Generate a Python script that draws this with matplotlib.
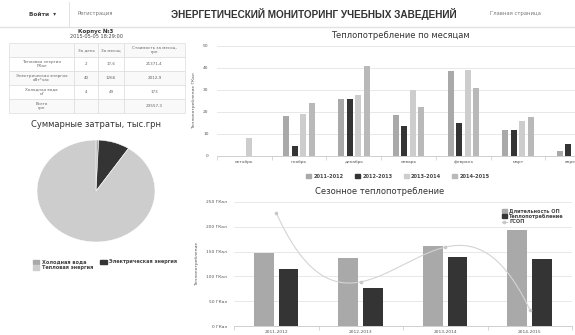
import numpy as np
import matplotlib.pyplot as plt
from matplotlib.patches import Patch
from matplotlib.lines import Line2D

W, H = 575, 335

# ---- данные ----
months = ['октябрь', 'ноябрь', 'декабрь', 'январь', 'февраль', 'март', 'апрель']
seasons = ['2011-2012', '2012-2013', '2013-2014', '2014-2015']
heat_2011 = [0, 18, 26, 18.8, 38.6, 11.8, 2.1]
heat_2012 = [0, 4.4, 25.8, 13.8, 15.2, 11.8, 5.6]
heat_2013 = [8.3, 19.2, 27.6, 30.2, 39.1, 15.8, 0]
heat_2014 = [0, 24, 40.9, 22.1, 31, 17.9, 0]

op_duration = [148, 138, 162, 193]
season_heat = [115, 77, 140, 136]
gsop = [228, 89, 159, 33]

pie_labels = ['Холодная вода', 'Электрическая энергия', 'Тепловая энергия']
pie_values = [173, 2012.9, 21371.4]

table_rows = [
    ['', 'За день', 'За месяц', 'Стоимость за месяц,\nгрн'],
    ['Тепловая энергия\nГКал', '2', '17,6', '21371,4'],
    ['Электрическая энергия\nкВт*час', '40', '1266', '2012,9'],
    ['Холодная вода\nм³', '4', '49', '173'],
    ['Всего\nгрн', '', '', '23557,3'],
]

c_2011 = '#a9a9a9'
c_dark = '#343434'
c_2013 = '#cdcdcd'
c_2014 = '#b9b9b9'
grid_c = '#e4e4e4'
txt_c = '#555555'


def px_axes(fig, x0, y0, x1, y1):
    return fig.add_axes([x0 / W, 1 - y1 / H, (x1 - x0) / W, (y1 - y0) / H])


def ftxt(fig, x, y, s, **kw):
    return fig.text(x / W, 1 - y / H, s, **kw)


fig = plt.figure(figsize=(W / 100, H / 100), dpi=100)
fig.patch.set_facecolor('white')

# ---- шапка ----
ftxt(fig, 29, 14, 'Войти  ▾', fontsize=4.2, fontweight='bold', color='#444444', va='center')
ftxt(fig, 78, 14, 'Регистрация', fontsize=3.8, color='#777777', va='center')
ftxt(fig, 314, 14, 'ЭНЕРГЕТИЧЕСКИЙ МОНИТОРИНГ УЧЕБНЫХ ЗАВЕДЕНИЙ', fontsize=7.2,
     fontweight='bold', color='#333333', va='center', ha='center', family='Liberation Sans')
ftxt(fig, 490, 14, 'Главная страница', fontsize=3.8, color='#777777', va='center')
fig.add_artist(Line2D([69 / W, 69 / W], [1 - 2 / H, 1 - 26 / H], color='#dddddd', lw=0.6))
fig.add_artist(Line2D([0, 1], [1 - 27 / H, 1 - 27 / H], color='#e2e2e2', lw=1.0))

# ---- таблица ----
ftxt(fig, 96, 31, 'Корпус №3', fontsize=4, fontweight='bold', color='#333333', ha='center', va='center')
ftxt(fig, 96, 37, '2015-05-05 18:29:00', fontsize=3.6, color='#444444', ha='center', va='center')
axt = px_axes(fig, 9, 43, 185, 113)
axt.axis('off')
tb = axt.table(cellText=table_rows, bbox=[0, 0, 1, 1], cellLoc='center',
               colWidths=[65, 24, 26, 61])
tb.auto_set_font_size(False)
for (r, c), cell in tb.get_celld().items():
    cell.set_edgecolor('#dddddd')
    cell.set_linewidth(0.5)
    cell.get_text().set_fontsize(3.0)
    cell.get_text().set_color('#666666')
    if r % 2 == 0:
        cell.set_facecolor('#f9f9f9')

# ---- круговая диаграмма ----
ftxt(fig, 96, 124, 'Суммарные затраты, тыс.грн', fontsize=6, color='#333333', ha='center', va='center')
axp = px_axes(fig, 37, 140, 155, 242)
pie_colors = [c_2011, c_dark, c_2013]
axp.pie(pie_values, colors=pie_colors, startangle=90, counterclock=False,
        wedgeprops=dict(edgecolor='white', linewidth=0.4))
axp.set_aspect('auto')
axp.set_xlim(-1.0, 1.0)
axp.set_ylim(-1.0, 1.0)
ph = [Patch(color=pie_colors[i], label=pie_labels[i]) for i in (0, 2, 1)]
fig.legend(handles=ph, ncol=2, loc='upper left', bbox_to_anchor=(28 / W, 1 - 255 / H),
           frameon=False, handlelength=1.3, handleheight=1.0,
           columnspacing=1.5, labelspacing=0.1, handletextpad=0.5,
           prop=dict(size=3.6, weight='bold'), labelcolor='#444444')

# ---- теплопотребление по месяцам ----
ftxt(fig, 400, 36, 'Теплопотребление по месяцам', fontsize=6, color='#333333', ha='center', va='center')
ax1 = px_axes(fig, 217, 46, 575, 156)
x = np.arange(len(months))
series = [heat_2011, heat_2012, heat_2013, heat_2014]
cols = [c_2011, c_dark, c_2013, c_2014]
offs = [-0.232, -0.079, 0.079, 0.232]
for s, c, o, lab in zip(series, cols, offs, seasons):
    ax1.bar(x + o, s, width=0.11, color=c, label=lab, zorder=3)
ax1.set_yticks([0, 10, 20, 30, 40, 50])
ax1.set_xticks(x)
ax1.set_xticklabels(months)
ax1.set_xticks(np.arange(-0.5, 7, 1), minor=True)
ax1.set_xlim(-0.5, 6.04)
ax1.set_ylim(0, 50)
ax1.tick_params(axis='x', which='major', length=0, labelsize=3.2, labelcolor=txt_c, pad=3)
ax1.tick_params(axis='x', which='minor', length=3, color='#c8c8c8', width=0.5)
ax1.tick_params(axis='y', length=0, labelsize=3.2, labelcolor=txt_c, pad=6)
ax1.grid(axis='y', color=grid_c, lw=0.6, zorder=0)
for sp in ('top', 'right', 'left'):
    ax1.spines[sp].set_visible(False)
ax1.spines['bottom'].set_color('#c8c8c8')
ax1.spines['bottom'].set_linewidth(0.6)
ax1.set_ylabel('Теплопотребление ГКал', fontsize=3.2, color=txt_c, labelpad=5)
fig.legend(handles=[Patch(color=c, label=l) for c, l in zip(cols, seasons)], ncol=4,
           loc='center', bbox_to_anchor=(398 / W, 1 - 176 / H), frameon=False,
           handlelength=1.0, handleheight=0.9, columnspacing=2.2, handletextpad=0.5,
           prop=dict(size=3.6, weight='bold'), labelcolor='#444444')

# ---- сезонное теплопотребление ----
ftxt(fig, 380, 191, 'Сезонное теплопотребление', fontsize=6, color='#333333', ha='center', va='center')
ax2 = px_axes(fig, 234, 202, 572, 326)
xs = np.arange(len(seasons))
ax2.bar(xs - 0.15, op_duration, width=0.236, color=c_2011, label='Длительность ОП', zorder=3)
ax2.bar(xs + 0.145, season_heat, width=0.236, color=c_dark, label='Теплопотребление', zorder=3)
k = np.polyfit(xs, gsop, 3)
xx = np.linspace(0, 3, 200)
ax2.plot(xx, np.polyval(k, xx), color='#d4d4d4', lw=0.8, zorder=4)
ax2.plot(xs, gsop, 'o', color='#c8c8c8', ms=1.6, zorder=4)
ax2.set_yticks([0, 50, 100, 150, 200, 250])
ax2.set_yticklabels([f'{v} ГКал' for v in [0, 50, 100, 150, 200, 250]])
ax2.set_xticks(xs)
ax2.set_xticklabels(seasons)
ax2.set_xticks(np.arange(-0.5, 4, 1), minor=True)
ax2.set_xlim(-0.5, 3.5)
ax2.set_ylim(0, 250)
ax2.tick_params(axis='x', which='major', length=0, labelsize=3.2, labelcolor=txt_c, pad=3)
ax2.tick_params(axis='x', which='minor', length=3, color='#c8c8c8', width=0.5)
ax2.tick_params(axis='y', length=0, labelsize=3.2, labelcolor=txt_c, pad=5)
ax2.grid(axis='y', color=grid_c, lw=0.6, zorder=0)
for sp in ('top', 'right', 'left'):
    ax2.spines[sp].set_visible(False)
ax2.spines['bottom'].set_color('#c8c8c8')
ax2.spines['bottom'].set_linewidth(0.6)
ax2.set_ylabel('Теплопотребление', fontsize=3.2, color=txt_c, labelpad=5)
lh = [Patch(color=c_2011, label='Длительность ОП'),
      Patch(color=c_dark, label='Теплопотребление'),
      Line2D([], [], color='#c8c8c8', lw=0.8, marker='o', ms=1.6, label='ГСОП')]
fig.legend(handles=lh, loc='upper left', bbox_to_anchor=(497 / W, 1 - 204 / H), frameon=False,
           handlelength=1.0, handleheight=0.8, labelspacing=0.05, handletextpad=0.5,
           prop=dict(size=3.6, weight='bold'), labelcolor='#444444')

fig.savefig('out.png', dpi=100)
